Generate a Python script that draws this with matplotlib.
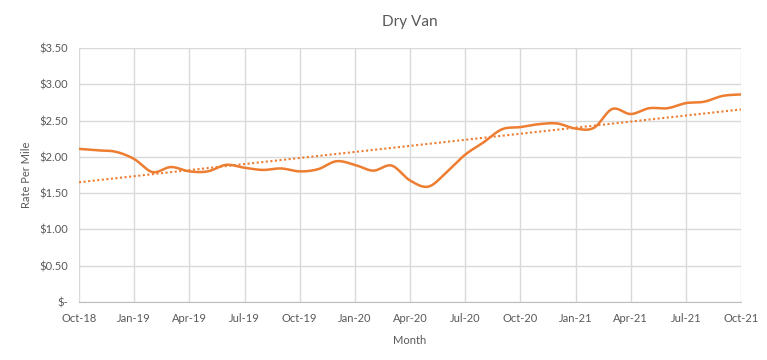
import matplotlib
matplotlib.use("Agg")
import matplotlib.pyplot as plt
import numpy as np

# monthly dry van rate per mile, Oct-18 .. Oct-21
rates = [2.11, 2.09, 2.07, 1.97, 1.79, 1.86, 1.80, 1.80, 1.89, 1.85,
         1.82, 1.84, 1.80, 1.83, 1.94, 1.89, 1.81, 1.88, 1.675, 1.59,
         1.79, 2.03, 2.20, 2.38, 2.41, 2.45, 2.46, 2.39, 2.40, 2.66,
         2.59, 2.67, 2.67, 2.74, 2.76, 2.84, 2.86]
tick_labels = ["Oct-18", "Jan-19", "Apr-19", "Jul-19", "Oct-19", "Jan-20", "Apr-20",
               "Jul-20", "Oct-20", "Jan-21", "Apr-21", "Jul-21", "Oct-21"]
y_ticks = [0, 0.5, 1.0, 1.5, 2.0, 2.5, 3.0, 3.5]

ORANGE = "#ED7D31"
GREY = "#595959"


def smooth(x, y, n=20):
    # Catmull-Rom style smoothing, similar to Excel's smoothed line
    x = np.asarray(x, float)
    y = np.asarray(y, float)
    px = np.concatenate([[x[0]], x, [x[-1]]])
    py = np.concatenate([[y[0]], y, [y[-1]]])
    xs, ys = [], []
    t = np.linspace(0, 1, n, endpoint=False)
    for i in range(1, len(px) - 2):
        for arr, out in ((px, xs), (py, ys)):
            p0, p1, p2, p3 = arr[i - 1], arr[i], arr[i + 1], arr[i + 2]
            out.extend(0.5 * ((2 * p1) + (-p0 + p2) * t
                              + (2 * p0 - 5 * p1 + 4 * p2 - p3) * t ** 2
                              + (-p0 + 3 * p1 - 3 * p2 + p3) * t ** 3))
    xs.append(x[-1])
    ys.append(y[-1])
    return np.array(xs), np.array(ys)


def main():
    plt.rcParams['font.family'] = ['Lato', 'DejaVu Sans']
    fig = plt.figure(figsize=(7.67, 3.6), dpi=100)
    ax = fig.add_axes([79 / 767, 58 / 360, 662 / 767, 254 / 360])

    months = np.arange(len(rates))
    sx, sy = smooth(months, rates)
    ax.plot(sx, sy, color=ORANGE, lw=1.8, solid_capstyle='round', zorder=3)

    # linear trendline
    k, b = np.polyfit(months, rates, 1)
    ax.plot(months, k * months + b, color=ORANGE, lw=1.5, ls=(0, (1, 1.2)), zorder=2)

    ax.set_xlim(0, len(rates) - 1)
    ax.set_ylim(0, 3.5)
    ax.set_xticks(months[::3])
    ax.set_xticklabels(tick_labels)
    ax.set_yticks(y_ticks)
    ax.set_yticklabels(["$-" if v == 0 else "${:.2f}".format(v) for v in y_ticks])

    ax.grid(True, color="#D9D9D9", lw=1)
    ax.set_axisbelow(True)
    for s in ["top", "right", "left"]:
        ax.spines[s].set_visible(False)
    ax.spines["bottom"].set_color("#BFBFBF")
    ax.tick_params(length=0, labelsize=8, colors=GREY, pad=8)

    ax.set_title("Dry Van", fontsize=11, color=GREY, pad=16)
    ax.set_xlabel("Month", fontsize=8, color=GREY, labelpad=8)
    ax.set_ylabel("Rate Per Mile", fontsize=8, color=GREY, labelpad=5)

    fig.savefig("out.png", dpi=100)


if __name__ == '__main__':
    main()
